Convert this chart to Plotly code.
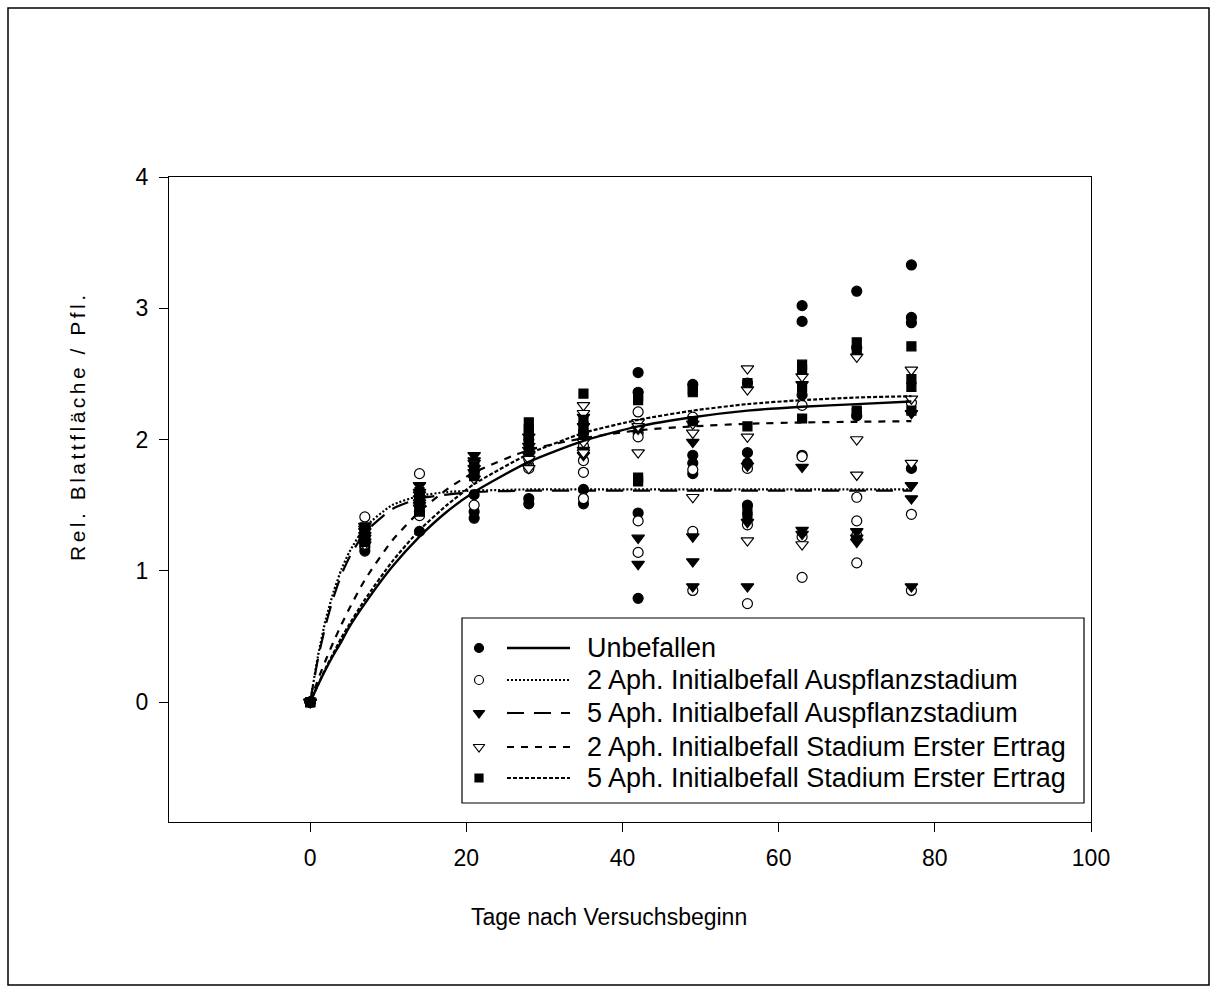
import plotly.graph_objects as go

# Sampling days of the trial
days = [0, 7, 14, 21, 28, 35, 42, 49, 56, 63, 70, 77]

# Relative leaf area per plant, replicate values per sampling day
unbefallen = [
    [0, 0, 0, 0], [1.15, 1.18, 1.22, 1.25], [1.30, 1.45, 1.50, 1.55],
    [1.58, 1.45, 1.40, 1.72], [1.55, 1.51, 1.90, 2.00], [1.62, 1.51, 2.05, 2.00],
    [2.51, 2.36, 2.05, 1.44, 0.79], [2.42, 1.88, 1.82, 1.74], [2.43, 1.90, 1.82, 1.50],
    [3.02, 2.90, 2.34, 1.88], [3.13, 2.70, 2.18, 1.25], [3.33, 2.93, 2.89, 1.78],
]
aph2_auspflanz = [
    [0, 0, 0], [1.41, 1.30, 1.25, 1.20], [1.74, 1.45, 1.42, 1.50],
    [1.50, 1.80, 1.75], [1.80, 1.78, 1.85], [1.84, 1.75, 1.55, 1.95],
    [2.21, 1.38, 1.14, 2.02], [2.17, 1.77, 1.30, 0.85], [1.78, 1.35, 0.75],
    [2.26, 1.87, 1.26, 0.95], [1.56, 1.38, 1.27, 1.06], [2.28, 1.43, 0.85],
]
aph5_auspflanz = [
    [0, 0, 0], [1.34, 1.30, 1.25, 1.22], [1.65, 1.60, 1.55, 1.50],
    [1.88, 1.84, 1.78], [1.95, 1.92, 1.88], [2.17, 2.10, 1.92, 1.88],
    [1.25, 1.05, 2.08], [1.98, 1.26, 1.07, 0.88], [1.37, 0.88, 1.80],
    [1.79, 1.31, 1.28], [1.30, 1.22, 1.25], [2.20, 1.65, 1.55, 0.88],
]
aph2_ertrag = [
    [0, 0, 0], [1.32, 1.27, 1.20], [1.58, 1.48, 1.52],
    [1.75, 1.70, 1.82], [1.85, 1.78, 2.02], [2.26, 2.20, 1.98, 1.90],
    [2.13, 1.90, 2.10], [2.05, 1.56, 2.12], [2.54, 2.38, 2.02, 1.23],
    [2.48, 2.42, 1.20], [2.63, 2.00, 1.73], [2.53, 2.31, 1.82],
]
aph5_ertrag = [
    [0, 0, 0], [1.33, 1.28, 1.22], [1.55, 1.50, 1.45, 1.60],
    [1.80, 1.76, 1.72], [2.13, 2.08, 2.05, 1.98], [2.35, 2.15, 2.10, 2.05],
    [2.33, 2.30, 1.71, 1.68], [2.38, 2.14, 2.36], [2.43, 2.10, 1.46, 1.41],
    [2.57, 2.53, 2.40, 2.16], [2.74, 2.68, 2.22, 2.20], [2.71, 2.46, 2.40, 2.22],
]

# Fitted growth curves, read at these days
curve_days = [0, 1, 2, 3, 4, 5, 7, 10.5, 14, 17.5, 21, 28, 35, 42, 49, 56, 63, 70, 77]
fit_unbefallen = [0, 0.13, 0.25, 0.36, 0.46, 0.57, 0.75, 1.03, 1.26, 1.45, 1.60,
                  1.83, 1.99, 2.10, 2.17, 2.22, 2.25, 2.27, 2.29]
fit_aph2_auspflanz = [0, 0.35, 0.63, 0.84, 1.01, 1.14, 1.33, 1.50, 1.57, 1.60, 1.61,
                      1.62, 1.62, 1.62, 1.62, 1.62, 1.62, 1.62, 1.62]
fit_aph5_auspflanz = [0, 0.33, 0.59, 0.80, 0.97, 1.10, 1.29, 1.47, 1.55, 1.58, 1.60,
                      1.61, 1.61, 1.61, 1.61, 1.61, 1.61, 1.61, 1.61]
fit_aph2_ertrag = [0, 0.17, 0.32, 0.46, 0.59, 0.71, 0.93, 1.23, 1.45, 1.62, 1.75,
                   1.92, 2.01, 2.07, 2.10, 2.12, 2.13, 2.135, 2.14]
fit_aph5_ertrag = [0, 0.13, 0.26, 0.375, 0.49, 0.59, 0.78, 1.07, 1.31, 1.50, 1.66,
                   1.89, 2.05, 2.15, 2.22, 2.27, 2.30, 2.32, 2.33]

labels = [
    "Unbefallen",
    "2 Aph. Initialbefall Auspflanzstadium",
    "5 Aph. Initialbefall Auspflanzstadium",
    "2 Aph. Initialbefall Stadium Erster Ertrag",
    "5 Aph. Initialbefall Stadium Erster Ertrag",
]

FONT = "Liberation Sans, Arial, sans-serif"
INK = "#000000"

groups = [
    dict(obs=unbefallen, fit=fit_unbefallen, symbol="circle", fill=INK, size=10,
         dash="solid", width=2.4),
    dict(obs=aph2_auspflanz, fit=fit_aph2_auspflanz, symbol="circle", fill="white", size=10,
         dash="2px,2px", width=2.2),
    dict(obs=aph5_auspflanz, fit=fit_aph5_auspflanz, symbol="triangle-down", fill=INK, size=11,
         dash="17px,10px", width=2.2),
    dict(obs=aph2_ertrag, fit=fit_aph2_ertrag, symbol="triangle-down", fill="white", size=11,
         dash="7px,7px", width=2.2),
    dict(obs=aph5_ertrag, fit=fit_aph5_ertrag, symbol="square", fill=INK, size=9,
         dash="4px,2px", width=2.2),
]

fig = go.Figure()

# scatter of replicate observations
for g in groups:
    xs, ys = [], []
    for d, vals in zip(days, g["obs"]):
        xs += [d] * len(vals)
        ys += vals
    fig.add_trace(go.Scatter(
        x=xs, y=ys, mode="markers", showlegend=False, cliponaxis=False,
        marker=dict(symbol=g["symbol"], size=g["size"], color=g["fill"],
                    line=dict(color=INK, width=1.2)),
    ))

# fitted curves
for g in groups:
    fig.add_trace(go.Scatter(
        x=curve_days, y=g["fit"], mode="lines", showlegend=False,
        line=dict(color=INK, width=g["width"], dash=g["dash"], shape="spline", smoothing=0.6),
    ))

# plot area in pixels
L, R, T, B = 169, 1091, 177, 822
W, H = R - L, B - T


def px(xp):
    return (xp - L) / W


def py(yp):
    return (B - yp) / H


shapes = []
annotations = []

# outer frame around the whole figure
shapes.append(dict(type="rect", xref="paper", yref="paper",
                   x0=px(8), x1=px(1209), y0=py(985), y1=py(8),
                   line=dict(color=INK, width=1.5), layer="below"))

# legend box
shapes.append(dict(type="rect", xref="paper", yref="paper",
                   x0=px(462), x1=px(1084), y0=py(803), y1=py(618),
                   line=dict(color=INK, width=1.2), layer="below"))

row_y = [648, 680, 713, 747, 778]
for g, lab, ry in zip(groups, labels, row_y):
    shapes.append(dict(type="line", xref="paper", yref="paper",
                       x0=px(507), x1=px(570), y0=py(ry), y1=py(ry),
                       line=dict(color=INK, width=g["width"], dash=g["dash"]), layer="above"))
    annotations.append(dict(xref="paper", yref="paper", x=px(585), y=py(ry),
                            xanchor="left", yanchor="middle", text=lab, showarrow=False,
                            font=dict(family=FONT, size=27, color=INK)))

# legend symbols on an overlay axis in paper fractions
for g, ry in zip(groups, row_y):
    fig.add_trace(go.Scatter(
        x=[px(479)], y=[py(ry)], xaxis="x2", yaxis="y2", mode="markers",
        showlegend=False, cliponaxis=False,
        marker=dict(symbol=g["symbol"], size=g["size"] - 1, color=g["fill"],
                    line=dict(color=INK, width=1.2)),
    ))

# axis titles
annotations.append(dict(xref="paper", yref="paper", x=px(609), y=py(917),
                        xanchor="center", yanchor="middle", text="Tage nach Versuchsbeginn",
                        showarrow=False, font=dict(family=FONT, size=23, color=INK)))
ytitle = "\u2006".join("Rel. Blattfläche / Pfl.")
annotations.append(dict(xref="paper", yref="paper", x=px(77), y=py(428),
                        xanchor="center", yanchor="middle", text=ytitle, textangle=-90,
                        showarrow=False, font=dict(family=FONT, size=21, color=INK)))

axis_common = dict(showgrid=False, zeroline=False, showline=True, linecolor=INK,
                   linewidth=1.3, mirror=True, ticks="outside", ticklen=9, tickwidth=1.2,
                   tickcolor=INK, tickfont=dict(family=FONT, size=23, color=INK))

fig.update_layout(
    width=1211, height=995,
    margin=dict(l=L, r=1211 - R, t=T, b=995 - B),
    paper_bgcolor="white", plot_bgcolor="white",
    showlegend=False,
    xaxis=dict(range=[-18.08, 100], tickvals=[0, 20, 40, 60, 80, 100],
               ticklabelstandoff=6, **axis_common),
    yaxis=dict(range=[-0.914, 4], tickvals=[0, 1, 2, 3, 4],
               ticklabelstandoff=6, **axis_common),
    xaxis2=dict(overlaying="x", anchor="y2", range=[0, 1], visible=False),
    yaxis2=dict(overlaying="y", anchor="x2", range=[0, 1], visible=False),
    shapes=shapes,
    annotations=annotations,
)

fig.write_html("out.html")
